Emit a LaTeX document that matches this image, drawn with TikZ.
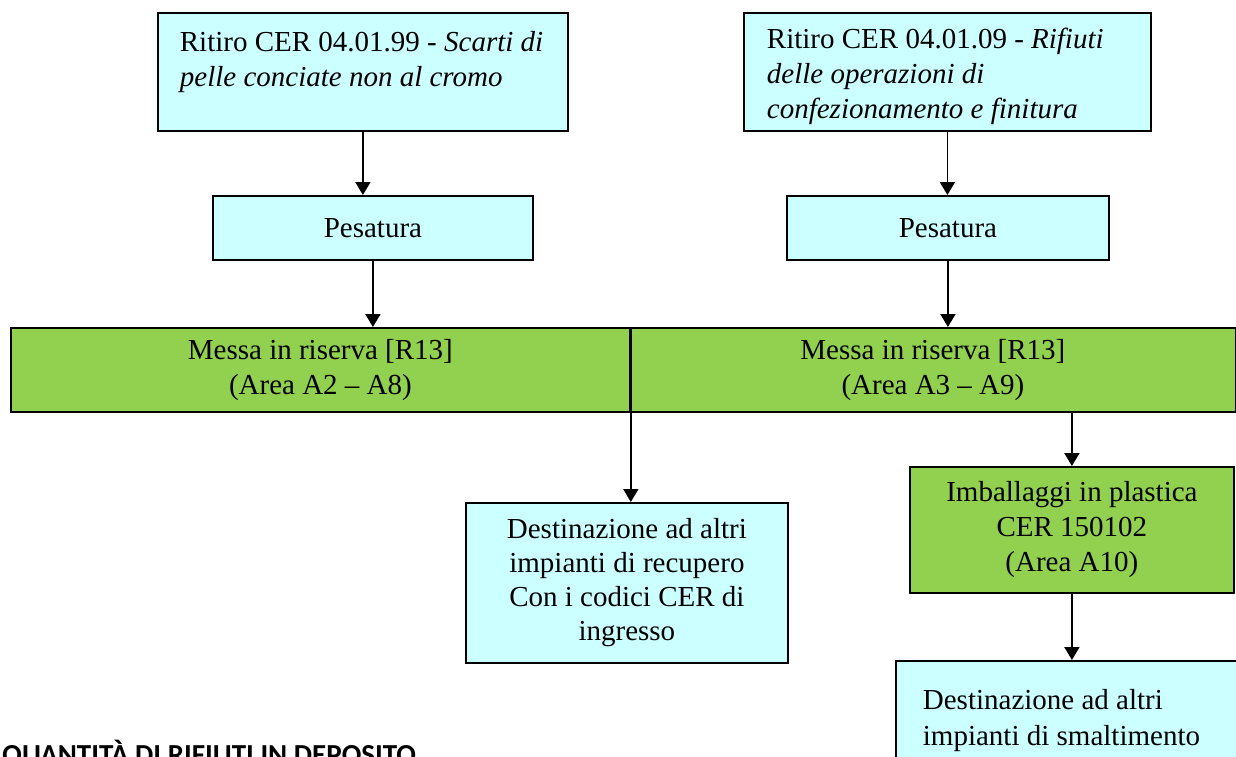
\documentclass[tikz,border=0pt]{standalone}
\usepackage{fontspec}
\setmainfont{Liberation Serif}
\newfontfamily\calibrifont{Carlito}
\usepackage{tikz}
\usetikzlibrary{arrows.meta, positioning}
\definecolor{boxcyan}{RGB}{204,255,255}
\definecolor{boxgreen}{RGB}{146,208,80}

\begin{document}
\begin{tikzpicture}[x=1pt, y=-1pt,
    every node/.style={font=\fontsize{29}{35}\selectfont},
    cyanbox/.style={draw, line width=1.8pt, fill=boxcyan, anchor=north west, inner sep=0pt, align=flush center},
    greenbox/.style={draw, line width=1.8pt, fill=boxgreen, anchor=north west, inner sep=0pt, align=flush center},
    arr/.style={-{Triangle[length=13pt,width=15pt]}, line width=1.8pt}]
  \useasboundingbox (0,0) rectangle (1236,756);

  % two inputs
  \node[cyanbox, align=flush left, inner xsep=22pt, text width=366pt, minimum height=118pt] (ritA) at (157,12)
    {\rule{0pt}{29pt}Ritiro CER 04.01.99 - \textit{Scarti di}\\ \textit{pelle conciate non al cromo}\\ \mbox{}};
  \node[cyanbox, align=flush left, inner xsep=23pt, text width=361pt, minimum height=118pt] (ritB) at (743,12)
    {\rule{0pt}{29pt}Ritiro CER 04.01.09 - \textit{Rifiuti}\\ \textit{delle operazioni di}\\ \textit{confezionamento e finitura}};

  \node[cyanbox, minimum width=320pt, minimum height=64pt] (pesA) at (212,195) {Pesatura};
  \node[cyanbox, minimum width=322pt, minimum height=64pt] (pesB) at (786,195) {Pesatura};

  % storage bar
  \node[greenbox, minimum width=619pt, minimum height=84pt] (mrA) at (10,327)
    {Messa in riserva [R13]\\(Area A2 – A8)};
  \node[greenbox, minimum width=606pt, minimum height=84pt] (mrB) at (629,327)
    {Messa in riserva [R13]\\(Area A3 – A9)};

  % outputs
  \node[cyanbox, minimum width=322pt, minimum height=160pt, font=\fontsize{29}{34}\selectfont] (destA) at (465,502)
    {Destinazione ad altri\\impianti di recupero\\Con i codici CER di\\ingresso};
  \node[greenbox, minimum width=324pt, minimum height=126pt] (imbA) at (909,466)
    {Imballaggi in plastica\\CER 150102\\(Area A10)};
  \node[cyanbox, align=flush left, inner xsep=27pt, inner ysep=28pt, text width=311pt, font=\fontsize{29}{36}\selectfont] (destB) at (895,660)
    {Destinazione ad altri\\ impianti di smaltimento};

  \node[anchor=base west, inner sep=0pt, font=\calibrifont\bfseries\fontsize{29}{35}\selectfont] (qta) at (2,764)
    {QUANTITÀ DI RIFIUTI IN DEPOSITO};

  \draw[arr] (ritA.south) -- (ritA.south |- pesA.north);
  \draw[arr] (ritB.south) -- (ritB.south |- pesB.north);
  \draw[arr] (pesA.south) -- (pesA.south |- mrA.north);
  \draw[arr] (pesB.south) -- (pesB.south |- mrB.north);
  \draw[arr] (mrA.north east) -- (mrA.north east |- destA.north);
  \draw[arr] (imbA.north |- mrB.south) -- (imbA.north);
  \draw[arr] (imbA.south) -- (imbA.south |- destB.north);
\end{tikzpicture}
\end{document}
